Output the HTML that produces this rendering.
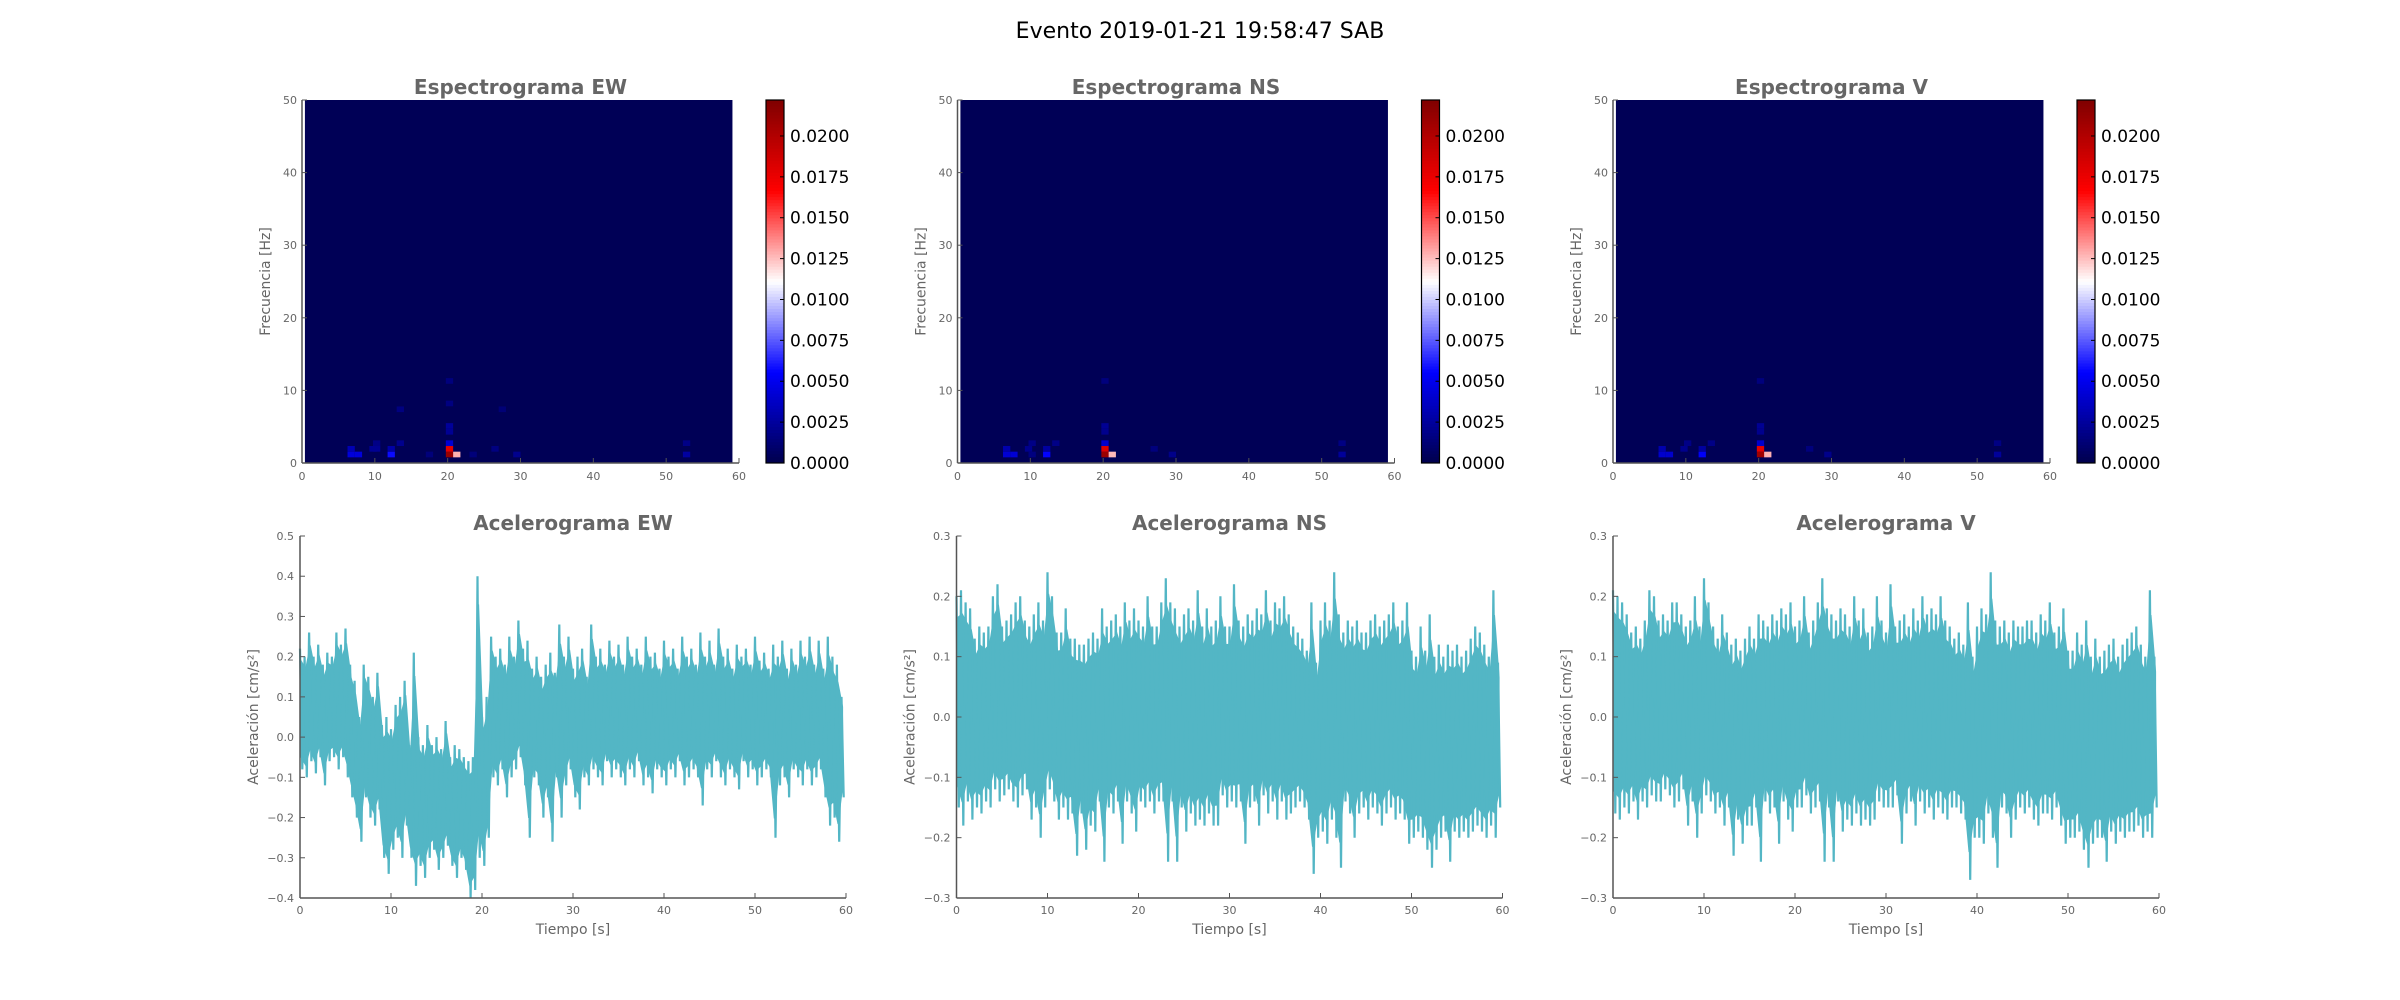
<!DOCTYPE html>
<html><head><meta charset="utf-8"><title>Evento 2019-01-21 19:58:47 SAB</title>
<style>html,body{margin:0;padding:0;background:#fff;width:2400px;height:1000px;overflow:hidden}
svg text{font-family:"DejaVu Sans","Liberation Sans",sans-serif}</style></head>
<body>
<svg id="fig" width="2400" height="1000" viewBox="0 0 2400 1000" xmlns="http://www.w3.org/2000/svg">
<text x="1200" y="38" text-anchor="middle" font-size="22" fill="#000">Evento 2019-01-21 19:58:47 SAB</text>
</svg>
<script>
// ---- data ----
const components = ["EW","NS","V"];
const xTicks = [0,10,20,30,40,50,60];
const specYTicks = [0,10,20,30,40,50];
const cbTicks = [0,0.0025,0.005,0.0075,0.01,0.0125,0.015,0.0175,0.02];
const cbTickLabels = ["0.0000","0.0025","0.0050","0.0075","0.0100","0.0125","0.0150","0.0175","0.0200"];
const cbMax = 0.0222;
const specBackground = 0.0003;
// spectrogram highlighted cells: centre time (s), centre freq (Hz), value
const specTimesEW = [20.25,21.25,20.25,20.25,20.25,20.25,20.25,20.25,6.75,7.75,6.75,12.25,12.25,9.75,10.25,10.25,13.5,13.5,52.8,52.8,29.5,17.5,23.5,26.5,27.5];
const specFreqsEW = [1.17,1.17,1.95,2.73,4.3,5.1,8.2,11.3,1.17,1.17,1.95,1.17,1.95,1.95,1.95,2.73,2.73,7.4,1.17,2.73,1.17,1.17,1.17,1.95,7.4];
const specValsEW  = [0.0212,0.0128,0.0178,0.0042,0.0022,0.0024,0.0016,0.0015,0.0044,0.0044,0.0032,0.0058,0.0028,0.0022,0.0022,0.0018,0.0020,0.0016,0.0026,0.0018,0.0020,0.0014,0.0014,0.0016,0.0013];
const specTimesNS = [20.25,21.25,20.25,20.25,20.25,20.25,20.25,6.75,7.75,6.75,12.25,12.25,9.75,10.25,13.5,52.8,52.8,29.5,27.0,10.25];
const specFreqsNS = [1.17,1.17,1.95,2.73,4.3,5.1,11.3,1.17,1.17,1.95,1.17,1.95,1.95,2.73,2.73,1.17,2.73,1.17,1.95,1.17];
const specValsNS  = [0.0210,0.0126,0.0180,0.0040,0.0020,0.0022,0.0015,0.0042,0.0042,0.0030,0.0056,0.0026,0.0020,0.0018,0.0018,0.0024,0.0017,0.0019,0.0015,0.0016];
const specTimesV = [20.25,21.25,20.25,20.25,20.25,20.25,20.25,6.75,7.75,6.75,12.25,12.25,9.75,10.25,13.5,52.8,52.8,29.5,27.0];
const specFreqsV = [1.17,1.17,1.95,2.73,4.3,5.1,11.3,1.17,1.17,1.95,1.17,1.95,1.95,2.73,2.73,1.17,2.73,1.17,1.95];
const specValsV  = [0.0208,0.0128,0.0178,0.0040,0.0020,0.0022,0.0015,0.0040,0.0040,0.0030,0.0054,0.0026,0.0020,0.0018,0.0018,0.0024,0.0017,0.0019,0.0015];

const accYTicksEW = [-0.4,-0.3,-0.2,-0.1,0,0.1,0.2,0.3,0.4,0.5];
const accYTicksNS = [-0.3,-0.2,-0.1,0,0.1,0.2,0.3];
// envelope samples every 0.5 s (hi at t, lo at t+0.25)
const accHiEW = [0.22,0.2,0.26,0.2,0.23,0.18,0.21,0.2,0.26,0.23,0.27,0.18,
0.14,0.05,0.18,0.15,0.1,0.16,
0.03,0.05,0.02,0.08,0.1,0.14,
-0.02,0.21,0.0,-0.02,0.03,-0.02,0.0,-0.03,0.04,-0.05,-0.02,-0.03,-0.05,-0.06,
-0.05,0.4,0.05,0.1,
0.25,0.2,0.22,0.18,0.25,0.2,0.29,0.22,0.24,0.17,
0.2,0.15,0.18,0.21,0.16,0.28,0.2,0.25,0.17,0.2,
0.22,0.15,0.28,0.2,0.22,0.18,0.24,0.2,0.23,0.18,
0.25,0.2,0.22,0.18,0.25,0.2,0.21,0.17,0.24,0.2,
0.22,0.17,0.25,0.2,0.22,0.18,0.26,0.2,0.24,0.18,
0.27,0.2,0.22,0.17,0.23,0.2,0.22,0.18,0.25,0.19,
0.21,0.17,0.23,0.2,0.24,0.17,0.22,0.18,0.24,0.2,
0.25,0.18,0.24,0.17,0.25,0.2,0.18,0.1];
const accLoEW = [-0.08,-0.1,-0.06,-0.09,-0.05,-0.12,-0.06,-0.05,-0.08,-0.05,-0.1,-0.15,
-0.2,-0.26,-0.15,-0.2,-0.22,-0.18,
-0.3,-0.34,-0.28,-0.25,-0.3,-0.22,
-0.3,-0.37,-0.32,-0.35,-0.3,-0.28,-0.33,-0.3,-0.27,-0.32,-0.35,-0.3,-0.33,-0.4,
-0.38,-0.3,-0.32,-0.25,
-0.1,-0.12,-0.08,-0.15,-0.1,-0.08,-0.05,-0.12,-0.25,-0.1,
-0.12,-0.2,-0.15,-0.26,-0.1,-0.2,-0.12,-0.08,-0.15,-0.18,
-0.1,-0.12,-0.08,-0.1,-0.12,-0.06,-0.1,-0.08,-0.1,-0.12,
-0.08,-0.1,-0.06,-0.12,-0.1,-0.14,-0.08,-0.1,-0.12,-0.08,
-0.1,-0.06,-0.12,-0.1,-0.08,-0.1,-0.17,-0.08,-0.1,-0.06,
-0.1,-0.12,-0.08,-0.1,-0.13,-0.06,-0.1,-0.08,-0.12,-0.1,
-0.08,-0.1,-0.25,-0.12,-0.1,-0.15,-0.08,-0.1,-0.12,-0.08,
-0.12,-0.1,-0.08,-0.15,-0.22,-0.2,-0.26,-0.15];
const accHiNS = [0.2,0.21,0.19,0.18,0.13,0.15,0.14,0.15,0.2,0.22,
0.15,0.16,0.17,0.19,0.2,0.16,0.15,0.17,0.19,0.16,
0.24,0.2,0.14,0.14,0.18,0.13,0.13,0.12,0.12,0.13,
0.14,0.13,0.18,0.15,0.16,0.17,0.15,0.19,0.16,0.18,
0.16,0.15,0.2,0.15,0.15,0.19,0.23,0.19,0.18,0.15,
0.17,0.18,0.16,0.21,0.15,0.18,0.15,0.16,0.2,0.15,
0.15,0.22,0.16,0.15,0.17,0.16,0.18,0.17,0.21,0.16,
0.19,0.18,0.2,0.17,0.15,0.14,0.13,0.11,0.19,0.09,
0.16,0.19,0.16,0.24,0.17,0.14,0.16,0.15,0.16,0.14,
0.14,0.16,0.17,0.15,0.16,0.17,0.19,0.15,0.16,0.19,
0.11,0.1,0.15,0.11,0.17,0.1,0.12,0.1,0.12,0.11,
0.12,0.1,0.11,0.13,0.15,0.14,0.12,0.1,0.21,0.09];
const accLoNS = [-0.15,-0.18,-0.14,-0.17,-0.15,-0.16,-0.14,-0.15,-0.12,-0.14,
-0.13,-0.12,-0.14,-0.15,-0.13,-0.12,-0.17,-0.15,-0.2,-0.15,
-0.12,-0.14,-0.17,-0.15,-0.17,-0.16,-0.23,-0.16,-0.22,-0.18,
-0.19,-0.14,-0.24,-0.15,-0.16,-0.14,-0.21,-0.14,-0.16,-0.19,
-0.14,-0.15,-0.14,-0.16,-0.14,-0.14,-0.24,-0.14,-0.24,-0.15,
-0.19,-0.16,-0.18,-0.17,-0.18,-0.16,-0.18,-0.18,-0.13,-0.15,
-0.14,-0.15,-0.14,-0.21,-0.15,-0.14,-0.18,-0.13,-0.16,-0.14,
-0.17,-0.14,-0.17,-0.16,-0.15,-0.14,-0.15,-0.17,-0.26,-0.2,
-0.19,-0.21,-0.17,-0.2,-0.25,-0.14,-0.16,-0.2,-0.16,-0.15,
-0.17,-0.15,-0.16,-0.18,-0.16,-0.15,-0.17,-0.16,-0.17,-0.21,
-0.2,-0.19,-0.2,-0.22,-0.25,-0.22,-0.2,-0.19,-0.24,-0.19,
-0.2,-0.19,-0.2,-0.19,-0.18,-0.19,-0.2,-0.18,-0.2,-0.15];
const accHiV = [0.21,0.2,0.19,0.17,0.14,0.15,0.13,0.16,0.21,0.2,
0.16,0.17,0.16,0.19,0.19,0.17,0.15,0.16,0.2,0.15,
0.23,0.19,0.15,0.13,0.17,0.14,0.12,0.13,0.11,0.13,
0.15,0.13,0.17,0.16,0.15,0.17,0.16,0.18,0.17,0.19,
0.15,0.16,0.2,0.14,0.16,0.19,0.23,0.18,0.17,0.16,
0.18,0.17,0.15,0.2,0.16,0.18,0.14,0.15,0.2,0.16,
0.14,0.22,0.15,0.16,0.17,0.15,0.18,0.16,0.2,0.17,
0.18,0.17,0.2,0.16,0.15,0.13,0.14,0.12,0.19,0.1,
0.15,0.18,0.17,0.24,0.16,0.15,0.16,0.14,0.16,0.15,
0.15,0.16,0.16,0.14,0.17,0.16,0.19,0.14,0.15,0.18,
0.11,0.11,0.14,0.12,0.16,0.1,0.13,0.1,0.11,0.12,
0.13,0.1,0.12,0.13,0.14,0.15,0.12,0.1,0.21,0.1];
const accLoV = [-0.16,-0.17,-0.15,-0.16,-0.14,-0.17,-0.14,-0.15,-0.13,-0.14,
-0.14,-0.12,-0.13,-0.15,-0.14,-0.12,-0.18,-0.14,-0.2,-0.16,
-0.13,-0.14,-0.16,-0.15,-0.18,-0.15,-0.23,-0.17,-0.21,-0.18,
-0.18,-0.15,-0.24,-0.14,-0.16,-0.15,-0.21,-0.14,-0.17,-0.19,
-0.15,-0.15,-0.13,-0.16,-0.15,-0.14,-0.24,-0.15,-0.24,-0.14,
-0.19,-0.17,-0.18,-0.16,-0.18,-0.17,-0.18,-0.17,-0.14,-0.15,
-0.15,-0.15,-0.13,-0.21,-0.16,-0.14,-0.18,-0.14,-0.16,-0.15,
-0.17,-0.15,-0.16,-0.17,-0.15,-0.15,-0.16,-0.17,-0.27,-0.2,
-0.2,-0.21,-0.16,-0.2,-0.25,-0.15,-0.16,-0.2,-0.17,-0.15,
-0.16,-0.15,-0.17,-0.18,-0.16,-0.16,-0.17,-0.15,-0.18,-0.21,
-0.2,-0.2,-0.19,-0.22,-0.25,-0.21,-0.2,-0.2,-0.24,-0.19,
-0.21,-0.19,-0.2,-0.19,-0.19,-0.18,-0.2,-0.19,-0.2,-0.15];

const specData = {EW:[specTimesEW,specFreqsEW,specValsEW],NS:[specTimesNS,specFreqsNS,specValsNS],V:[specTimesV,specFreqsV,specValsV]};
const accData = {EW:[accHiEW,accLoEW,accYTicksEW],NS:[accHiNS,accLoNS,accYTicksNS],V:[accHiV,accLoV,accYTicksNS]};

// ---- drawing ----
const svg = document.getElementById('fig');
const NS_ = 'http://www.w3.org/2000/svg';
function mk(tag, attrs, parent){const e=document.createElementNS(NS_,tag);for(const k in attrs)e.setAttribute(k,attrs[k]);(parent||svg).appendChild(e);return e;}
function seismic(v){
  let x=Math.max(0,Math.min(1,v/cbMax));
  const stops=[[0,0,0,0.3],[0.25,0,0,1],[0.5,1,1,1],[0.75,1,0,0],[1,0.5,0,0]];
  for(let i=0;i<4;i++){const a=stops[i],b=stops[i+1];if(x<=b[0]){const f=(x-a[0])/(b[0]-a[0]);
    const c=[1,2,3].map(j=>Math.round(255*(a[j]+f*(b[j]-a[j]))));return `rgb(${c[0]},${c[1]},${c[2]})`;}}
  return 'rgb(128,0,0)';
}
function fmt(v){return (v<0?'\u2212':'')+Math.abs(v).toFixed(1);}
const gray='#666', spine='#555', tickFont=11, lineColor='#53b6c5';

components.forEach((comp,c)=>{
  // ---------- spectrogram ----------
  const sx0=302+655.5*c, sx1=sx0+437, sy0=100, sy1=463;
  const X=t=>sx0+(t/60)*(sx1-sx0);
  const Y=f=>sy1-(f/50)*(sy1-sy0);
  const g=mk('g',{});
  
  
  const bg=mk('rect',{x:X(0.4),y:Y(50),width:X(59.1)-X(0.4),height:Y(0)-Y(50),fill:seismic(specBackground)},g);
  
  
  const [ts,fs,vs]=specData[comp];
  ts.forEach((t,i)=>{
    const r=mk('rect',{x:X(t-0.5),y:Y(fs[i]+0.39),width:X(1)-X(0),height:Y(0)-Y(0.78),fill:seismic(vs[i])},g);
    
    
  });
  mk('line',{x1:sx0,y1:sy0,x2:sx0,y2:sy1,stroke:spine,'stroke-width':1.5},g);
  mk('line',{x1:sx0,y1:sy1,x2:sx1,y2:sy1,stroke:spine,'stroke-width':1.5},g);
  xTicks.forEach(t=>{mk('line',{x1:X(t),y1:sy1,x2:X(t),y2:sy1-5,stroke:spine},g);
    const tx=mk('text',{x:X(t),y:sy1+17,'text-anchor':'middle','font-size':tickFont,fill:gray},g);tx.textContent=t;
    });
  specYTicks.forEach(f=>{mk('line',{x1:sx0,y1:Y(f),x2:sx0+5,y2:Y(f),stroke:spine},g);
    const tx=mk('text',{x:sx0-5,y:Y(f)+4,'text-anchor':'end','font-size':tickFont,fill:gray},g);tx.textContent=f;
    });
  const st=mk('text',{x:(sx0+sx1)/2,y:94,'text-anchor':'middle','font-size':20,'font-weight':'bold',fill:gray},g);
  st.textContent='Espectrograma '+comp;
  
  const yl=mk('text',{x:0,y:0,'text-anchor':'middle','font-size':14,fill:gray,transform:`translate(${sx0-32},${(sy0+sy1)/2}) rotate(-90)`},g);
  yl.textContent='Frecuencia [Hz]';
  
  // colorbar
  const cx=766+655.5*c, cw=18;
  const CY=v=>sy1-(v/cbMax)*(sy1-sy0);
  const cb=mk('g',{},g);
  
  for(let k=0;k<120;k++){const v0=cbMax*k/120,v1=cbMax*(k+1)/120;
    mk('rect',{x:cx,y:CY(v1)-0.3,width:cw,height:CY(v0)-CY(v1)+0.6,fill:seismic((v0+v1)/2)},cb);}
  mk('rect',{x:cx,y:sy0,width:cw,height:sy1-sy0,fill:'none',stroke:'#000','stroke-width':1.2},cb);
  cbTicks.forEach((v,i)=>{mk('line',{x1:cx+cw-4,y1:CY(v),x2:cx+cw,y2:CY(v),stroke:'#000'},cb);
    const tx=mk('text',{x:cx+cw+6,y:CY(v)+6,'font-size':17,fill:'#000'},cb);tx.textContent=cbTickLabels[i];
    });

  // ---------- accelerogram ----------
  const ax0=300+656.5*c, ax1=ax0+546, ay0=536, ay1=898;
  const [hi,lo,yt]=accData[comp];
  const ymin=yt[0], ymax=yt[yt.length-1];
  const AX=t=>ax0+(t/60)*(ax1-ax0);
  const AY=v=>ay1-((v-ymin)/(ymax-ymin))*(ay1-ay0);
  const ag=mk('g',{});
  
  
  let top=[],bot=[];
  hi.forEach((h,i)=>{const m=(h+lo[i])/2;
    top.push(AX(i*0.5+0.125).toFixed(1)+','+AY(m+(h-m)*0.8).toFixed(1));
    bot.unshift(AX(i*0.5+0.125).toFixed(1)+','+AY(m+(lo[i]-m)*0.8).toFixed(1));});
  const band=mk('polygon',{points:top.concat(bot).join(' '),fill:lineColor,stroke:lineColor,'stroke-width':1},ag);
  
  let pts=[];
  hi.forEach((h,i)=>{pts.push(AX(i*0.5).toFixed(1)+','+AY(h).toFixed(1));
    pts.push(AX(i*0.5+0.25).toFixed(1)+','+AY(lo[i]).toFixed(1));});
  const pl=mk('polyline',{points:pts.join(' '),fill:'none',stroke:lineColor,'stroke-width':2.2},ag);
  
  mk('line',{x1:ax0,y1:ay0,x2:ax0,y2:ay1,stroke:spine,'stroke-width':1.5},ag);
  mk('line',{x1:ax0,y1:ay1,x2:ax1,y2:ay1,stroke:spine,'stroke-width':1.5},ag);
  xTicks.forEach(t=>{mk('line',{x1:AX(t),y1:ay1,x2:AX(t),y2:ay1-5,stroke:spine},ag);
    const tx=mk('text',{x:AX(t),y:ay1+16,'text-anchor':'middle','font-size':tickFont,fill:gray},ag);tx.textContent=t;
    });
  yt.forEach(v=>{mk('line',{x1:ax0,y1:AY(v),x2:ax0+5,y2:AY(v),stroke:spine},ag);
    const tx=mk('text',{x:ax0-6,y:AY(v)+4,'text-anchor':'end','font-size':tickFont,fill:gray},ag);tx.textContent=fmt(v);
    });
  const at=mk('text',{x:(ax0+ax1)/2,y:530,'text-anchor':'middle','font-size':20,'font-weight':'bold',fill:gray},ag);
  at.textContent='Acelerograma '+comp;
  
  const xl=mk('text',{x:(ax0+ax1)/2,y:934,'text-anchor':'middle','font-size':14,fill:gray},ag);
  xl.textContent='Tiempo [s]';
  
  const ayl=mk('text',{x:0,y:0,'text-anchor':'middle','font-size':14,fill:gray,transform:`translate(${ax0-42},${(ay0+ay1)/2}) rotate(-90)`},ag);
  ayl.textContent='Aceleración [cm/s²]';
  
});
</script>
</body></html>
